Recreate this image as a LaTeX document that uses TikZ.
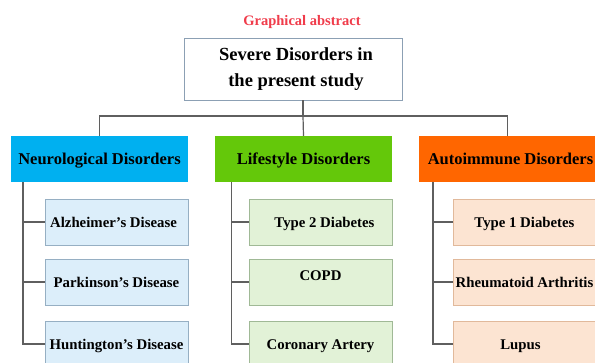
\documentclass[tikz,border=0pt]{standalone}
\usepackage{fontspec}
\setmainfont{Liberation Serif}
\definecolor{titlered}{RGB}{240,60,75}
\definecolor{catblue}{RGB}{0,176,240}
\definecolor{catgreen}{RGB}{100,200,10}
\definecolor{catorange}{RGB}{255,102,0}
\definecolor{subblue}{RGB}{220,238,250}
\definecolor{subblueb}{RGB}{150,175,195}
\definecolor{subgreen}{RGB}{226,242,215}
\definecolor{subgreenb}{RGB}{160,185,150}
\definecolor{suborange}{RGB}{252,228,210}
\definecolor{suborangeb}{RGB}{225,185,155}
\definecolor{topb}{RGB}{140,160,180}
\definecolor{linec}{RGB}{95,95,95}
\tikzset{
  box/.style={rectangle, inner sep=0pt, align=center, font=\bfseries},
  topbox/.style={box, draw=topb, line width=0.9pt, fill=white, minimum width=218pt, minimum height=62pt, font=\fontsize{18.5}{26}\selectfont\bfseries},
  catbox/.style={box, minimum width=177pt, minimum height=46pt, text height=11pt, text depth=0pt, font=\fontsize{16.5}{19}\selectfont\bfseries},
  subbox/.style={box, line width=0.9pt, minimum width=143pt, minimum height=46pt, text height=10pt, text depth=0pt, font=\fontsize{14.8}{17}\selectfont\bfseries},
  conn/.style={draw=linec, line width=1.2pt},
}
\begin{document}
\begin{tikzpicture}[x=1pt,y=-1pt]
\useasboundingbox (0,0) rectangle (595,362);
\fill[white] (0,0) rectangle (595,362);

\node[font=\fontsize{14.5}{17}\selectfont\bfseries, text=titlered, anchor=base] (title) at (302,25) {Graphical abstract};

\node[topbox] (top) at (293,69) {\hspace*{6pt}Severe Disorders in\\\hspace*{6pt}the present study};

% categories
\node[catbox, fill=catblue] (cat1) at (99.5,159) {Neurological Disorders};
\node[catbox, fill=catgreen] (cat2) at (303.5,159) {Lifestyle Disorders};
\node[catbox, fill=catorange] (cat3) at (507.5,159) {\hspace*{6pt}Autoimmune Disorders};

% sub boxes
\node[subbox, fill=subblue, draw=subblueb] (a1) at (116.5,222) {\hspace*{-6pt}Alzheimer's Disease};
\node[subbox, fill=subblue, draw=subblueb] (a2) at (116.5,282) {Parkinson's Disease};
\node[subbox, fill=subblue, draw=subblueb] (a3) at (116.5,344) {Huntington's Disease};

\node[subbox, fill=subgreen, draw=subgreenb] (b1) at (320.5,222) {\hspace*{8pt}Type 2 Diabetes};
\node[subbox, fill=subgreen, draw=subgreenb] (b2) at (320.5,282) {\raisebox{7pt}{COPD}};
\node[subbox, fill=subgreen, draw=subgreenb] (b3) at (320.5,344) {Coronary Artery};

\node[subbox, fill=suborange, draw=suborangeb] (c1) at (524.5,222) {Type 1 Diabetes};
\node[subbox, fill=suborange, draw=suborangeb] (c2) at (524.5,282) {Rheumatoid Arthritis};
\node[subbox, fill=suborange, draw=suborangeb] (c3) at (524.5,344) {\hspace*{-8pt}Lupus};

% connectors from top
\coordinate (hub) at (303,116);
\draw[conn] (top.south -| hub) -- (hub);
\draw[conn] (cat1.north) |- (hub) -| (cat3.north);
\draw[conn] (hub) -- (cat2.north);

% trees
\draw[conn] (cat1.south -| 23,0) |- (a3.west);
\draw[conn] (a1.west -| 23,0) -- (a1.west);
\draw[conn] (a2.west -| 23,0) -- (a2.west);

\draw[conn] (cat2.south -| 231.5,0) |- (b3.west);
\draw[conn] (b1.west -| 231.5,0) -- (b1.west);
\draw[conn] (b2.west -| 231.5,0) -- (b2.west);

\draw[conn] (cat3.south -| 433,0) |- (c3.west);
\draw[conn] (c1.west -| 433,0) -- (c1.west);
\draw[conn] (c2.west -| 433,0) -- (c2.west);
\end{tikzpicture}
\end{document}
